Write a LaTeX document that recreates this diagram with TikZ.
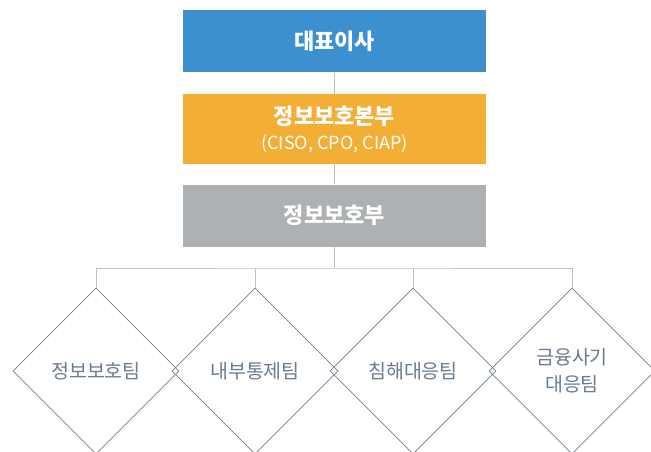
\documentclass[tikz,border=0pt]{standalone}
\usepackage{fontspec}
\setmainfont{Noto Sans CJK KR}
\usetikzlibrary{shapes.geometric}
\definecolor{ceoblue}{HTML}{3C90D0}
\definecolor{cisoorange}{HTML}{F3AE35}
\definecolor{opsgray}{HTML}{ADB1B4}
\definecolor{teamline}{HTML}{6E7F91}
\definecolor{teamtext}{HTML}{6B7B8F}
\definecolor{linkgray}{HTML}{BDC1C4}
\tikzset{
  x=1pt, y=-1pt,
  topbox/.style={rectangle, minimum width=303pt, inner sep=0pt, text=white,
    font=\fontsize{22}{26}\selectfont\bfseries, align=center},
  team/.style={diamond, aspect=1, draw=teamline, line width=0.8pt,
    minimum width=166pt, minimum height=166pt, inner sep=0pt,
    text=teamtext, font=\fontsize{19.5}{27}\selectfont, align=center},
  link/.style={draw=linkgray, line width=0.8pt}
}
\begin{document}
\begin{tikzpicture}
\useasboundingbox[fill=white] (0,0) rectangle (651,452);
\node[topbox, fill=ceoblue, minimum height=62pt] (ceo) at (334.5,41.5) {대표이사};
\node[topbox, fill=cisoorange, minimum height=69pt] (ciso) at (334.5,129)
  {정보보호본부\\[-1pt]{\fontsize{18}{20}\selectfont\mdseries (CISO, CPO, CIAP)}};
\node[topbox, fill=opsgray, minimum height=62pt] (ops) at (334.5,215.5) {정보보호부};
\coordinate (bus) at (334.5,268);
\node[team] (t1) at (96,371) {정보보호팀};
\node[team] (t2) at (255,371) {내부통제팀};
\node[team] (t3) at (413,371) {침해대응팀};
\node[team] (t4) at (572,371) {금융사기\\대응팀};
\draw[link] (ceo.south) -- (ciso.north);
\draw[link] (ciso.south) -- (ops.north);
\draw[link] (ops.south) -- (bus);
\draw[link] (t1.north) |- (bus) -| (t4.north);
\draw[link] (t2.north) -- (t2.north |- bus);
\draw[link] (t3.north) -- (t3.north |- bus);
\end{tikzpicture}
\end{document}
